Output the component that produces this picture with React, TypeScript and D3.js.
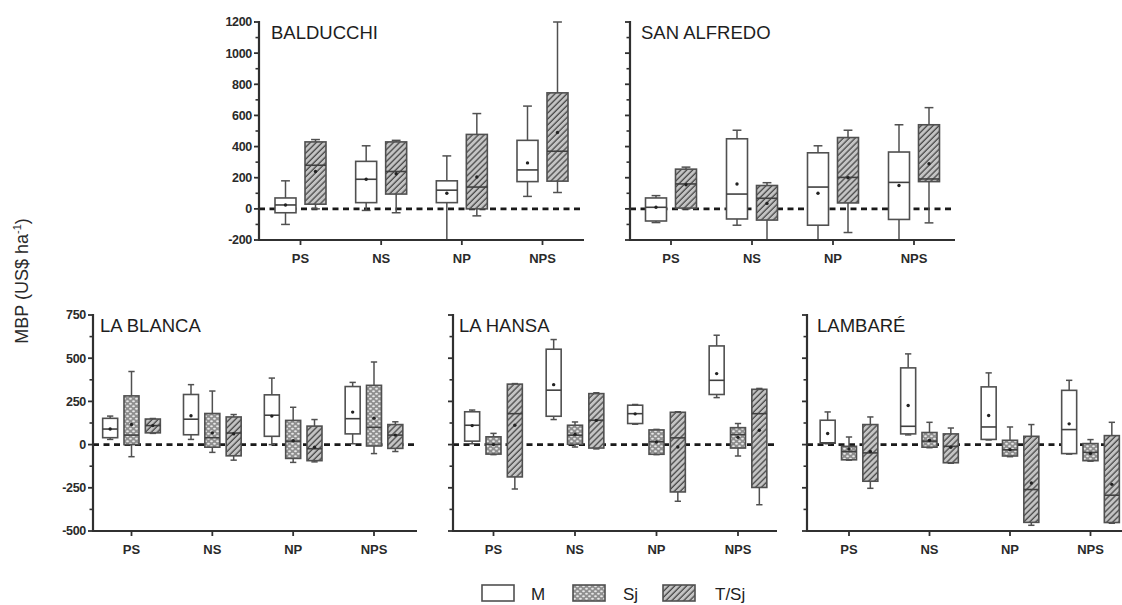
import React from "react";
import * as d3 from "d3";

// ---- data ----
// each stat: [min, q1, median, q3, max, mean]
type Stat = [number, number, number, number, number, number];

const categories = ["PS", "NS", "NP", "NPS"];
const seriesAll = ["M", "Sj", "T/Sj"];
const seriesTop = ["M", "T/Sj"];

const topTicksMajor = [-200, 0, 200, 400, 600, 800, 1000, 1200];
const topTicksMinor = [-100, 100, 300, 500, 700, 900, 1100];
const bottomTicksMajor = [-500, -250, 0, 250, 500, 750];
const bottomTicksMinor = [-375, -125, 125, 375, 625];

const balducchiM: Stat[] = [
  [-100, -25, 25, 70, 180, 25],
  [-10, 40, 190, 305, 405, 190],
  [-200, 40, 120, 180, 340, 100],
  [80, 175, 250, 440, 660, 295],
];
const balducchiTS: Stat[] = [
  [0, 30, 280, 430, 445, 240],
  [-25, 95, 240, 430, 440, 225],
  [-45, 0, 140, 478, 612, 205],
  [105, 178, 370, 745, 1200, 490],
];

const sanAlfredoM: Stat[] = [
  [-88, -78, 10, 70, 85, 10],
  [-105, -65, 95, 450, 505, 160],
  [-200, -105, 140, 360, 405, 100],
  [-200, -68, 170, 365, 540, 150],
];
const sanAlfredoTS: Stat[] = [
  [0, 5, 160, 255, 268, 155],
  [-200, -72, 68, 150, 168, 35],
  [-152, 38, 202, 458, 505, 200],
  [-90, 175, 192, 540, 650, 290],
];

const laBlancaM: Stat[] = [
  [30, 40, 90, 152, 165, 90],
  [30, 57, 147, 290, 347, 167],
  [0, 48, 170, 288, 385, 165],
  [5, 62, 150, 336, 360, 188],
];
const laBlancaSj: Stat[] = [
  [-70, 0, 55, 282, 423, 116],
  [-45, -15, 40, 180, 310, 68],
  [-103, -80, 20, 140, 216, 22],
  [-52, -8, 100, 343, 478, 153],
];
const laBlancaTS: Stat[] = [
  [65, 68, 110, 148, 151, 110],
  [-90, -65, 67, 160, 174, 62],
  [-100, -93, -24, 107, 145, -15],
  [-40, -22, 55, 116, 132, 55],
];

const laHansaM: Stat[] = [
  [5, 20, 112, 190, 200, 110],
  [145, 164, 315, 552, 608, 347],
  [118, 122, 179, 228, 232, 178],
  [272, 290, 372, 571, 633, 411],
];
const laHansaSj: Stat[] = [
  [-58, -55, 2, 45, 65, 0],
  [-14, 2, 54, 112, 131, 60],
  [-58, -56, 17, 85, 88, 15],
  [-66, -20, 58, 98, 122, 42],
];
const laHansaTS: Stat[] = [
  [-257, -187, 179, 350, 353, 112],
  [-25, -20, 141, 295, 300, 140],
  [-328, -274, 39, 187, 190, -14],
  [-348, -248, 179, 320, 325, 83],
];

const lambareM: Stat[] = [
  [5, 8, 10, 141, 189, 64],
  [56, 62, 106, 444, 525, 226],
  [27, 30, 102, 334, 415, 168],
  [-55, -52, 87, 314, 372, 120],
];
const lambareSj: Stat[] = [
  [-90, -88, -40, -10, 44, -25],
  [-18, -15, 20, 70, 129, 25],
  [-70, -66, -30, 25, 102, -30],
  [-96, -93, -45, 6, 29, -52],
];
const lambareTS: Stat[] = [
  [-253, -212, -48, 116, 160, -40],
  [-108, -105, -10, 62, 96, -15],
  [-467, -450, -260, 48, 116, -222],
  [-455, -451, -293, 52, 129, -230],
];

// ---- layout ----
const FONT = "'Liberation Sans', Arial, Helvetica, sans-serif";
const fills: Record<string, string> = {
  M: "#ffffff",
  Sj: "url(#pSj)",
  "T/Sj": "url(#pHatch)",
};

type PanelDef = {
  title: string;
  titleDx: number;
  x0: number;
  x1: number;
  catA: number;
  catB: number;
  yTop: number;
  yBottom: number;
  domain: [number, number];
  major: number[];
  minor: number[];
  labels: boolean;
  series: string[];
  data: Stat[][];
  groupHalf: number;
  boxW: number;
};

const panels: PanelDef[] = [
  {
    title: "BALDUCCHI", titleDx: 12, x0: 259, x1: 584, catA: 41.5, catB: 283.5,
    yTop: 22, yBottom: 240, domain: [-200, 1200], major: topTicksMajor, minor: topTicksMinor,
    labels: true, series: seriesTop, data: [balducchiM, balducchiTS], groupHalf: 30, boxW: 21,
  },
  {
    title: "SAN ALFREDO", titleDx: 11, x0: 630, x1: 955, catA: 41, catB: 284,
    yTop: 22, yBottom: 240, domain: [-200, 1200], major: topTicksMajor, minor: topTicksMinor,
    labels: false, series: seriesTop, data: [sanAlfredoM, sanAlfredoTS], groupHalf: 30, boxW: 21,
  },
  {
    title: "LA BLANCA", titleDx: 7, x0: 93, x1: 417, catA: 38.5, catB: 281,
    yTop: 315, yBottom: 531, domain: [-500, 750], major: bottomTicksMajor, minor: bottomTicksMinor,
    labels: true, series: seriesAll, data: [laBlancaM, laBlancaSj, laBlancaTS], groupHalf: 32, boxW: 15,
  },
  {
    title: "LA HANSA", titleDx: 6, x0: 453, x1: 777, catA: 40.5, catB: 285,
    yTop: 315, yBottom: 531, domain: [-500, 750], major: bottomTicksMajor, minor: bottomTicksMinor,
    labels: false, series: seriesAll, data: [laHansaM, laHansaSj, laHansaTS], groupHalf: 32, boxW: 15,
  },
  {
    title: "LAMBARÉ", titleDx: 10, x0: 807, x1: 1131, catA: 42, catB: 283.5,
    yTop: 315, yBottom: 531, domain: [-500, 750], major: bottomTicksMajor, minor: bottomTicksMinor,
    labels: false, series: seriesAll, data: [lambareM, lambareSj, lambareTS], groupHalf: 32, boxW: 15,
  },
];

function BoxMark({ cx, w, s, y, fill }: { cx: number; w: number; s: Stat; y: d3.ScaleLinear<number, number>; fill: string }) {
  const [mn, q1, md, q3, mx, mean] = s;
  const cap = w * 0.42;
  const stroke = "#505050";
  return (
    <g>
      <line x1={cx} x2={cx} y1={y(mx)} y2={y(mn)} stroke={stroke} strokeWidth={1.5} />
      <line x1={cx - cap / 2} x2={cx + cap / 2} y1={y(mx)} y2={y(mx)} stroke={stroke} strokeWidth={1.5} />
      <line x1={cx - cap / 2} x2={cx + cap / 2} y1={y(mn)} y2={y(mn)} stroke={stroke} strokeWidth={1.5} />
      <rect x={cx - w / 2} y={y(q3)} width={w} height={Math.max(0.5, y(q1) - y(q3))} fill={fill} stroke={stroke} strokeWidth={1.6} />
      <line x1={cx - w / 2} x2={cx + w / 2} y1={y(md)} y2={y(md)} stroke="#404040" strokeWidth={1.6} />
      <circle cx={cx} cy={y(mean)} r={1.7} fill="#222" />
    </g>
  );
}

function Panel({ p }: { p: PanelDef }) {
  const y = d3.scaleLinear().domain(p.domain).range([p.yBottom, p.yTop]);
  const x = d3.scalePoint<string>().domain(categories).range([p.x0 + p.catA, p.x0 + p.catB]);
  const inner = d3.scaleBand<string>().domain(p.series).range([-p.groupHalf, p.groupHalf]);
  const axisColor = "#303030";
  return (
    <g>
      <line x1={p.x0} x2={p.x1} y1={y(0)} y2={y(0)} stroke="#1a1a1a" strokeWidth={2.6} strokeDasharray="6,4.5" />
      {categories.map((c, ci) =>
        p.series.map((s, si) => (
          <BoxMark
            key={c + s}
            cx={(x(c) as number) + (inner(s) as number) + inner.bandwidth() / 2}
            w={p.boxW}
            s={p.data[si][ci]}
            y={y}
            fill={fills[s]}
          />
        ))
      )}
      <line x1={p.x0} x2={p.x0} y1={p.yTop - 1} y2={p.yBottom + 1} stroke={axisColor} strokeWidth={2.2} />
      {p.major.map((t) => (
        <g key={"M" + t}>
          <line x1={p.x0 - 5} x2={p.x0} y1={y(t)} y2={y(t)} stroke={axisColor} strokeWidth={1.8} />
          {p.labels && (
            <text x={p.x0 - 7} y={y(t)} dy="0.35em" textAnchor="end" fontFamily={FONT} fontWeight="bold" fontSize={12.5} fill="#2a2a2a" letterSpacing={-0.3}>
              {t}
            </text>
          )}
        </g>
      ))}
      {p.minor.map((t) => (
        <line key={"m" + t} x1={p.x0 - 3.5} x2={p.x0} y1={y(t)} y2={y(t)} stroke={axisColor} strokeWidth={1.6} />
      ))}
      <line x1={p.x0 - 1} x2={p.x1} y1={p.yBottom} y2={p.yBottom} stroke={axisColor} strokeWidth={2.2} />
      {categories.map((c) => (
        <g key={"x" + c}>
          <line x1={x(c) as number} x2={x(c) as number} y1={p.yBottom} y2={p.yBottom + 5} stroke={axisColor} strokeWidth={1.8} />
          <text x={x(c) as number} y={p.yBottom + 18} dy="0.35em" textAnchor="middle" fontFamily={FONT} fontWeight="bold" fontSize={13} fill="#2a2a2a">
            {c}
          </text>
        </g>
      ))}
      <text x={p.x0 + p.titleDx} y={p.yTop + 17} fontFamily={FONT} fontSize={18.5} fill="#1e1e1e">
        {p.title}
      </text>
    </g>
  );
}

const legendItems = [
  { key: "M", box: 482, text: 531 },
  { key: "Sj", box: 573, text: 623 },
  { key: "T/Sj", box: 663, text: 715 },
];

export default function App() {
  return (
    <svg
      width={1122}
      height={605}
      style={{ position: "absolute", left: 0, top: 0, background: "#fff" }}
      xmlns="http://www.w3.org/2000/svg"
    >
      <defs>
        <pattern id="pHatch" patternUnits="userSpaceOnUse" width={4.2} height={4.2} patternTransform="rotate(45)">
          <rect width={4.2} height={4.2} fill="#c4c4c4" />
          <line x1={1} x2={1} y1={0} y2={4.2} stroke="#474747" strokeWidth={1.3} />
        </pattern>
        <pattern id="pSj" patternUnits="userSpaceOnUse" width={6} height={5}>
          <rect width={6} height={5} fill="#8f8f8f" />
          <ellipse cx={1.5} cy={1.25} rx={1.4} ry={0.9} fill="#e8e8e8" />
          <ellipse cx={4.5} cy={3.75} rx={1.4} ry={0.9} fill="#e8e8e8" />
        </pattern>
      </defs>
      <rect width={1122} height={605} fill="#fff" />
      {panels.map((p) => (
        <Panel key={p.title} p={p} />
      ))}
      <text
        transform="translate(28,281) rotate(-90)"
        textAnchor="middle"
        fontFamily={FONT}
        fontSize={18}
        fill="#2a2a2a"
      >
        MBP (US$ ha<tspan dy={-7} fontSize={11}>-1</tspan><tspan dy={7}>)</tspan>
      </text>
      {legendItems.map((l) => (
        <g key={l.key}>
          <rect x={l.box} y={585} width={32} height={16} fill={fills[l.key]} stroke="#505050" strokeWidth={1.6} />
          <text x={l.text} y={600} fontFamily={FONT} fontSize={17} fill="#222">
            {l.key}
          </text>
        </g>
      ))}
    </svg>
  );
}
